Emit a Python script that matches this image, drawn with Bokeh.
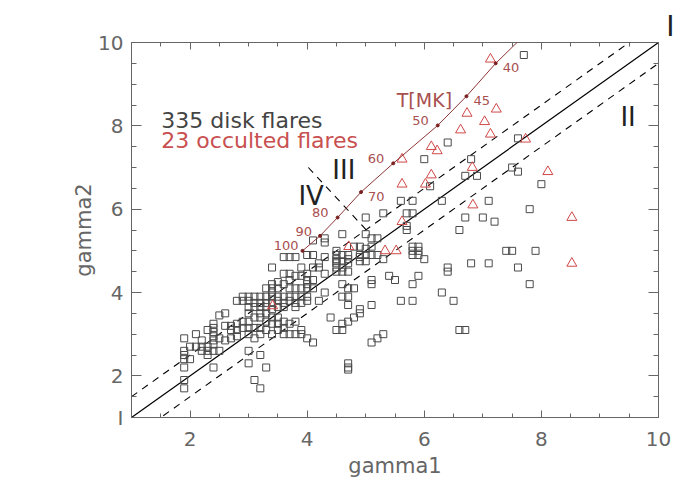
import math
from bokeh.plotting import figure
from bokeh.models import (Range1d, LinearAxis, FixedTicker, Label, Title,
                          ColumnDataSource, CDSView, IndexFilter)
from bokeh.embed import file_html
from bokeh.resources import INLINE
from bokeh.core.properties import value

FONT = "DejaVu Sans"

# ---------------- data ----------------
disk_g1 = [
    1.9, 1.9, 1.9, 1.9, 1.9, 1.9, 1.9,
    2.0, 2.0,
    2.1, 2.1,
    2.2, 2.2, 2.2,
    2.3, 2.3, 2.3, 2.3,
    2.4, 2.4, 2.4, 2.4, 2.4, 2.4, 2.4, 2.4,
    2.5, 2.5, 2.5,
    2.6, 2.6, 2.6,
    2.7, 2.7, 2.7,
    2.8, 2.8, 2.8, 2.8,
    2.9, 2.9, 2.9, 2.9,
    3.0, 3.0, 3.0, 3.0, 3.0, 3.0, 3.0, 3.0, 3.0,
    3.1, 3.1, 3.1, 3.1, 3.1, 3.1, 3.1,
    3.2, 3.2, 3.2, 3.2, 3.2, 3.2, 3.2, 3.2, 3.2,
    3.3, 3.3, 3.3, 3.3, 3.3, 3.3, 3.3, 3.3,
    3.4, 3.4, 3.4, 3.4, 3.4, 3.4, 3.4, 3.4, 3.4, 3.4,
    3.5, 3.5, 3.5, 3.5, 3.5, 3.5, 3.5, 3.5,
    3.6, 3.6, 3.6, 3.6, 3.6, 3.6, 3.6, 3.6, 3.6,
    3.7, 3.7, 3.7, 3.7, 3.7, 3.7, 3.7, 3.7,
    3.8, 3.8, 3.8, 3.8, 3.8, 3.8, 3.8, 3.8,
    3.9, 3.9, 3.9, 3.9, 3.9, 3.9, 3.9,
    4.0, 4.0, 4.0, 4.0, 4.0, 4.0, 4.0, 4.0,
    4.1, 4.1, 4.1, 4.1, 4.1, 4.1,
    4.2, 4.2, 4.2,
    4.3, 4.3, 4.3, 4.3, 4.3,
    4.4,
    4.5, 4.5, 4.5, 4.5, 4.5, 4.5, 4.5, 4.5,
    4.6, 4.6, 4.6, 4.6, 4.6, 4.6, 4.6, 4.6, 4.6,
    4.7, 4.7, 4.7, 4.7, 4.7, 4.7, 4.7, 4.7, 4.7, 4.7, 4.7,
    4.8, 4.8, 4.8,
    4.9, 4.9, 4.9, 4.9, 4.9, 4.9,
    5.0, 5.0, 5.0, 5.0, 5.0,
    5.1, 5.1, 5.1, 5.1, 5.1, 5.1, 5.1,
    5.2, 5.2, 5.2,
    5.3, 5.3, 5.3,
    5.4,
    5.5,
    5.6, 5.6,
    5.7, 5.7, 5.7,
    5.8, 5.8, 5.8, 5.8, 5.8, 5.8, 5.8,
    5.9, 5.9, 5.9, 5.9,
    6.0, 6.0,
    6.1,
    6.3, 6.3,
    6.4, 6.4, 6.4,
    6.5,
    6.6, 6.6,
    6.7, 6.7, 6.7,
    6.8, 6.8,
    6.9,
    7.0,
    7.1, 7.1,
    7.2,
    7.4,
    7.5, 7.5,
    7.6, 7.6, 7.6,
    7.7,
    7.8, 7.8,
    7.9,
    8.0,
]
disk_g2 = [
    2.9, 2.6, 2.5, 2.4, 2.2, 1.9, 1.7,
    2.7, 2.4,
    3.0, 2.7,
    2.85, 2.7, 2.6,
    3.1, 2.7, 2.6, 2.5,
    3.25, 3.15, 3.05, 2.95, 2.85, 2.75, 2.6, 2.2,
    3.45, 2.9, 2.6,
    3.5, 3.2, 2.85,
    3.2, 3.1, 2.9,
    3.8, 3.25, 3.1, 2.95,
    3.9, 3.8, 3.3, 3.15,
    3.9, 3.8, 3.65, 3.5, 3.3, 3.15, 3.0, 2.6, 2.3,
    3.9, 3.75, 3.65, 3.4, 3.15, 2.9, 1.9,
    3.9, 3.75, 3.65, 3.5, 3.4, 3.15, 3.0, 2.5, 1.7,
    4.1, 3.9, 3.75, 3.65, 3.5, 3.3, 3.1, 2.2,
    4.6, 4.2, 4.1, 4.0, 3.9, 3.75, 3.6, 3.4, 3.25, 3.0,
    4.25, 4.1, 3.9, 3.8, 3.65, 3.4, 3.25, 3.1,
    4.85, 4.45, 4.2, 3.9, 3.75, 3.65, 3.3, 3.15, 3.0,
    4.85, 4.45, 4.3, 4.1, 3.9, 3.8, 3.25, 3.0,
    4.85, 4.4, 4.1, 3.9, 3.75, 3.65, 3.3, 3.0,
    4.6, 4.4, 4.1, 3.9, 3.75, 3.1, 3.0,
    4.9, 4.45, 4.3, 4.2, 4.1, 3.9, 3.8, 2.9,
    5.25, 4.9, 4.6, 4.3, 4.1, 2.8,
    4.7, 4.6, 3.8,
    5.3, 5.2, 4.85, 4.45, 4.0,
    3.4,
    5.0, 4.9, 4.8, 4.75, 4.7, 4.6, 4.5, 3.1,
    5.4, 4.9, 4.75, 4.6, 4.5, 4.2, 3.9, 3.25, 3.1,
    4.9, 4.8, 4.7, 4.5, 4.1, 3.9, 3.7, 3.3, 2.3, 2.2, 2.15,
    5.1, 4.1, 3.4,
    5.1, 4.9, 4.85, 4.75, 3.6, 3.5,
    5.8, 5.4, 5.05, 4.9, 4.75,
    5.3, 5.1, 4.9, 4.3, 4.2, 3.7, 2.8,
    5.3, 4.9, 2.9,
    5.9, 4.8, 3.0,
    4.4,
    4.3,
    6.2, 3.8,
    5.9, 5.6, 5.5,
    6.2, 5.9, 5.1, 5.0, 4.9, 4.2, 3.8,
    5.1, 5.0, 4.9, 4.4,
    7.2, 4.8,
    6.55,
    6.2, 4.0,
    7.6, 4.6, 4.5,
    3.8,
    5.5, 3.1,
    6.8, 5.8, 3.1,
    7.2, 4.7,
    6.8,
    5.8,
    6.2, 4.7,
    5.7,
    5.0,
    7.0, 5.0,
    7.7, 6.9, 4.6,
    9.7,
    6.0, 4.2,
    5.0,
    6.6,
]

occ_g1 = [7.13, 7.23, 6.73, 7.03, 6.62, 7.13, 7.73, 6.12, 6.22, 5.62, 6.82, 8.11,
          6.12, 5.62, 6.02, 6.83, 5.62, 5.33, 5.52, 4.71, 3.41, 8.52, 8.52]
occ_g2 = [9.6, 8.4, 8.3, 8.1, 7.9, 7.8, 7.68, 7.5, 7.4, 7.2, 7.0, 6.9,
          6.82, 6.6, 6.6, 6.1, 5.7, 5.0, 5.0, 5.1, 3.68, 5.8, 4.7]

temp_MK = [100, 90, 80, 70, 60, 50, 45, 40]
temp_g1 = [3.92, 4.22, 4.52, 4.92, 5.47, 6.23, 6.72, 7.22]
temp_g2 = [5.0, 5.36, 5.8, 6.41, 7.1, 8.01, 8.71, 9.5]
curve_end_g1 = 7.62
curve_end_g2 = 10.05

diag_g = [1, 10]
band_halfwidth = 0.5
sep_g1 = [4.02, 5.05]
sep_g2 = [7.0, 5.44]

tick_major = [2, 4, 6, 8, 10]
tick_minor = [1 + 0.5 * i for i in range(19)]

# ---------------- figure ----------------
AX = "#666666"
p = figure(width=692, height=492, x_range=Range1d(1, 10), y_range=Range1d(1, 10),
           output_backend="svg", toolbar_location=None,
           x_axis_location=None, y_axis_location=None,
           min_border_left=131, min_border_right=34, min_border_top=42, min_border_bottom=75)
p.outline_line_color = AX
p.outline_line_width = 1
p.background_fill_color = "white"
p.border_fill_color = "white"
for g in p.grid:
    g.visible = False

bottom_ax = LinearAxis()
left_ax = LinearAxis()
top_ax = LinearAxis()
right_ax = LinearAxis()
p.add_layout(bottom_ax, "below")
p.add_layout(left_ax, "left")
p.add_layout(top_ax, "above")
p.add_layout(right_ax, "right")


def style_axis(ax, ticks, major_len, minor_len, labels, standoff=8, overrides=None):
    ax.ticker = FixedTicker(ticks=ticks, minor_ticks=tick_minor)
    ax.axis_line_color = None
    ax.major_tick_line_color = AX
    ax.minor_tick_line_color = AX
    ax.major_tick_in = major_len
    ax.major_tick_out = 0
    ax.minor_tick_in = minor_len
    ax.minor_tick_out = 0
    ax.major_label_text_font = FONT
    ax.major_label_text_color = AX
    ax.major_label_standoff = standoff
    if labels:
        ax.major_label_text_font_size = "20px"
        if overrides:
            ax.major_label_overrides = overrides
    else:
        ax.major_label_text_font_size = "0px"
        ax.major_label_overrides = {t: "" for t in ticks}


style_axis(bottom_ax, tick_major, 7, 4, True, 14)
# the lower-left region mark "I" sits at the g2 = 1 corner of the left axis
style_axis(left_ax, [1] + tick_major, 10, 5, True, 8, overrides={1: "I"})
style_axis(top_ax, tick_major, 7, 4, False, 0)
style_axis(right_ax, tick_major, 10, 5, False, 0)

bottom_ax.axis_label = "gamma1"
bottom_ax.axis_label_text_font = FONT
bottom_ax.axis_label_text_font_size = "21px"
bottom_ax.axis_label_text_font_style = "normal"
bottom_ax.axis_label_text_color = AX
bottom_ax.axis_label_standoff = 5

p.add_layout(Title(text="gamma2", align="center", offset=-18, standoff=0,
                   text_font=FONT, text_font_size="21px", text_font_style="normal",
                   text_color=AX), "left")
p.add_layout(Title(text="I", align="right", offset=-16, standoff=0,
                   text_font=FONT, text_font_size="28px", text_font_style="normal",
                   text_color="#222222"), "above")

# reference lines
p.line(diag_g, diag_g, line_color="black", line_width=1.2)
p.line(diag_g, [g + band_halfwidth for g in diag_g], line_color="black", line_width=1.1, line_dash="7 6")
p.line(diag_g, [g - band_halfwidth for g in diag_g], line_color="black", line_width=1.1, line_dash="7 6")
p.line(sep_g1, sep_g2, line_color="black", line_width=1.1, line_dash="7 6")

# data points
p.scatter(disk_g1, disk_g2, marker="square", size=7, fill_color=None,
          line_color="#4a4a4a", line_width=1)
p.scatter(occ_g1, occ_g2, marker="triangle", size=10, fill_color=None,
          line_color="#d04848", line_width=1)

# temperature curve
p.line(temp_g1 + [curve_end_g1], temp_g2 + [curve_end_g2], line_color="#8e3535", line_width=1)
p.scatter(temp_g1, temp_g2, marker="circle", size=3, fill_color="#7a2020", line_color="#7a2020")

lab_dx = [-4, -8, -9, 7, -9, -9, 7, 7]
lab_dy = [-5, -4, -5, 4, -5, -5, 4, 4]
src = ColumnDataSource(dict(x=temp_g1, y=temp_g2, t=[str(t) for t in temp_MK], dx=lab_dx, dy=lab_dy))
right_side = [i for i, d in enumerate(lab_dx) if d > 0]
left_side = [i for i, d in enumerate(lab_dx) if d < 0]
for idx, align in ((left_side, "right"), (right_side, "left")):
    p.text(x="x", y="y", text="t", x_offset="dx", y_offset="dy", source=src,
           view=CDSView(filter=IndexFilter(idx)),
           text_align=align, text_baseline="middle", text_color="#a85050",
           text_font=value(FONT), text_font_size="13px")


def add_label(x, y, text, size, color, align="left"):
    p.add_layout(Label(x=x, y=y, text=text, text_font=FONT, text_font_size=size,
                       text_color=color, text_align=align, text_baseline="middle"))


add_label(1.51, 8.14, "335 disk flares", "22px", "#444444")
add_label(1.51, 7.66, "23 occulted flares", "22px", "#c85050")
add_label(5.53, 8.62, "T[MK]", "19px", "#a85050")
add_label(4.43, 6.93, "III", "26px", "#222222")
add_label(3.85, 6.32, "IV", "26px", "#222222")
add_label(9.35, 8.22, "II", "26px", "#222222")

open("out.html", "w").write(file_html(p, INLINE))
